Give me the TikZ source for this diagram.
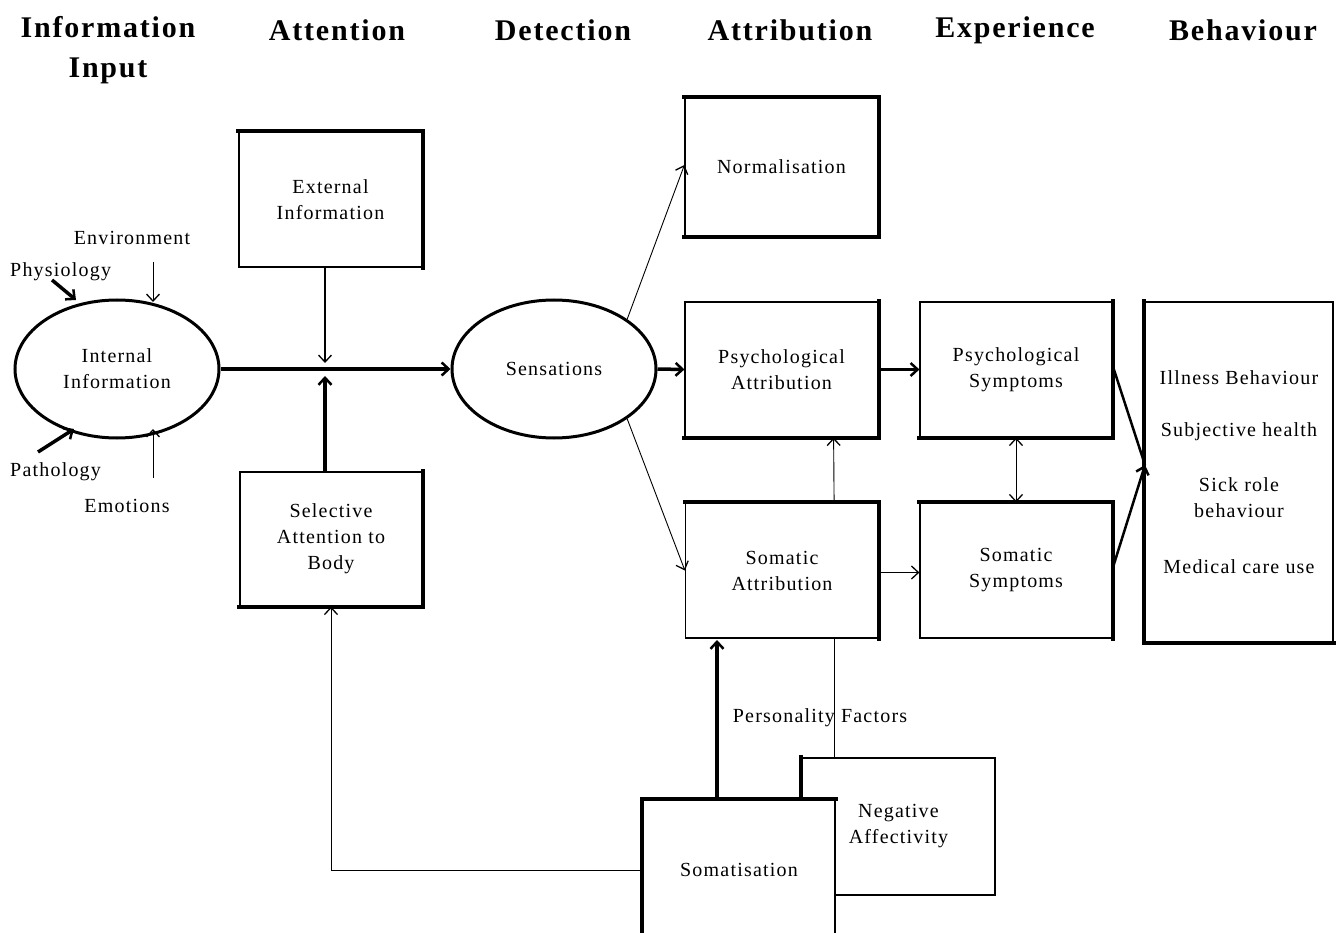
\documentclass[tikz,border=0pt]{standalone}
\usepackage{fontspec}
\setmainfont{Liberation Serif}[LetterSpace=6]
\usetikzlibrary{arrows.meta,shapes.geometric,calc}
\begin{document}
\begin{tikzpicture}[x=1pt,y=-1pt,
  box/.style={draw,line width=1.2pt,fill=white,inner sep=0pt,align=center,
    font=\fontsize{20}{26}\selectfont},
  oval/.style={ellipse,draw,line width=3pt,fill=white,minimum width=204pt,
    minimum height=138pt,inner sep=0pt,align=center,font=\fontsize{20}{26}\selectfont},
  heavy/.style={line width=4pt,line cap=rect},
  head/.style={font=\bfseries\fontsize{30}{40}\selectfont,align=center},
  lab/.style={font=\fontsize{20}{26}\selectfont,inner sep=0pt},
  fine/.style={line width=0.9pt,-{Straight Barb[length=7pt,width=13pt,line width=1.3pt]}},
  bold/.style={line width=3.5pt,-{Straight Barb[length=7pt,width=13pt,line width=2.5pt]}},
  plain/.style={line width=0.9pt}]
\useasboundingbox[fill=white] (0,0) rectangle (1336,933);
\clip (0,0) rectangle (1336,933);

% headers
\node[head] (h1) at (108,50) {Information\\Input};
\node[head] (h2) at (337,30) {Attention};
\node[head] (h3) at (563,30) {Detection};
\node[head] (h4) at (790,30) {Attribution};
\node[head] (h5) at (1015,30) {Experience};
\node[head] (h6) at (1243,30) {Behaviour};

% ellipses
\node[oval] (int) at (117,369) {Internal\\Information};
\node[oval] (sen) at (554,369) {Sensations};

% boxes
\node[box,minimum width=183pt,minimum height=135pt] (ext) at (330.5,199.5) {External\\Information};
\node[box,minimum width=182pt,minimum height=134pt] (sel) at (331,539) {Selective\\Attention to\\Body};
\node[box,minimum width=193pt,minimum height=138pt] (norm) at (781.5,167) {Normalisation};
\node[box,minimum width=193pt,minimum height=135pt] (pa) at (781.5,369.5) {Psychological\\Attribution};
\node[box,minimum width=193pt,minimum height=135pt] (sa) at (782,570.5) {Somatic\\Attribution};
\node[box,minimum width=192pt,minimum height=135pt] (ps) at (1016,369.5) {Psychological\\Symptoms};
\node[box,minimum width=192pt,minimum height=135pt] (ss) at (1016,570.5) {Somatic\\Symptoms};
\node[box,minimum width=188pt,minimum height=340pt] (beh) at (1239,472)
  {Illness Behaviour\\[26pt]Subjective health\\[29pt]Sick role\\behaviour\\[30pt]Medical care use};
\node[box,minimum width=193pt,minimum height=137pt] (neg) at (898.5,826.5) {Negative\\Affectivity};
\node[box,minimum width=192pt,minimum height=140pt] (som) at (739,870) {Somatisation};

% heavy sides
\draw[heavy] (ext.north west) -- (ext.north east) -- (ext.south east);
\draw[heavy] (sel.north east) -- (sel.south east) -- (sel.south west);
\draw[heavy] (norm.north west) -- (norm.north east) -- (norm.south east) -- (norm.south west);
\draw[heavy] (pa.north east) -- (pa.south east) -- (pa.south west);
\draw[heavy] (ps.north east) -- (ps.south east) -- (ps.south west);
\draw[heavy] (sa.north west) -- (sa.north east) -- (sa.south east);
\draw[heavy] (ss.north west) -- (ss.north east) -- (ss.south east);
\draw[heavy] (beh.north west) -- (beh.south west) -- (beh.south east);
\draw[heavy] (neg.north west) -- (neg.south west |- som.north);
\draw[heavy] (som.south west) -- (som.north west) -- (som.north east);

% inputs to internal information
\coordinate (phy) at (52,280);
\coordinate (env) at (153,262);
\coordinate (pat) at (38,452);
\coordinate (emo) at (153,478);
\node[lab,anchor=west] (phyl) at (10,272) {Physiology};
\node[lab] (envl) at (132,238) {Environment};
\node[lab,anchor=west] (patl) at (10,472) {Pathology};
\node[lab] (emol) at (127,506) {Emotions};
\coordinate (phyend) at (76,300);
\coordinate (envend) at (153,302);
\coordinate (patend) at (74,429);
\coordinate (emoend) at (153,429);
\draw[bold] (phy) -- (phyend);
\draw[fine] (env) -- (envend);
\draw[bold] (pat) -- (patend);
\draw[fine] (emo) -- (emoend);

% attention junction
\coordinate (jt) at (325,363);
\coordinate (jb) at (325,376);
\draw[fine,line width=1.6pt] (ext.south -| jt) -- (jt);
\draw[bold] (sel.north -| jb) -- (jb);
\draw[bold] (int.east) -- (sen.west);

% detection
\draw[fine] (sen.north east) -- ([yshift=2pt]norm.west);
\draw[bold] (sen.east) -- (pa.west);
\draw[fine] (sen.south east) -- (sa.west);

% attribution / experience
\draw[bold] (pa.east) -- (ps.west);
\draw[fine] ([yshift=-2pt]sa.east) -- ([yshift=-2pt]ss.west);
\draw[fine] ([xshift=-45pt]sa.north east) -- ([xshift=-45pt]pa.south east);
\draw[line width=0.9pt,{Straight Barb[length=7pt,width=13pt,line width=1.3pt]}-{Straight Barb[length=7pt,width=13pt,line width=1.3pt]}] (ps.south) -- (ss.north);
\coordinate (bin) at (1145,465);
\draw[line width=2.5pt] ([yshift=4pt]ps.east) -- (bin);
\draw[bold,line width=2.5pt] ([yshift=2pt]ss.east) -- (bin);

% personality factors
\draw[plain] ([xshift=-45pt]sa.south east) -- ([xshift=-45pt]sa.south east |- neg.north);
\node[lab] (pf) at (820,718) {Personality Factors};
\coordinate (sab) at (717,640);
\draw[bold] (som.north -| sab) -- (sab);
\draw[fine] (som.west) -- (som.west -| sel.south) -- (sel.south);
\end{tikzpicture}
\end{document}
